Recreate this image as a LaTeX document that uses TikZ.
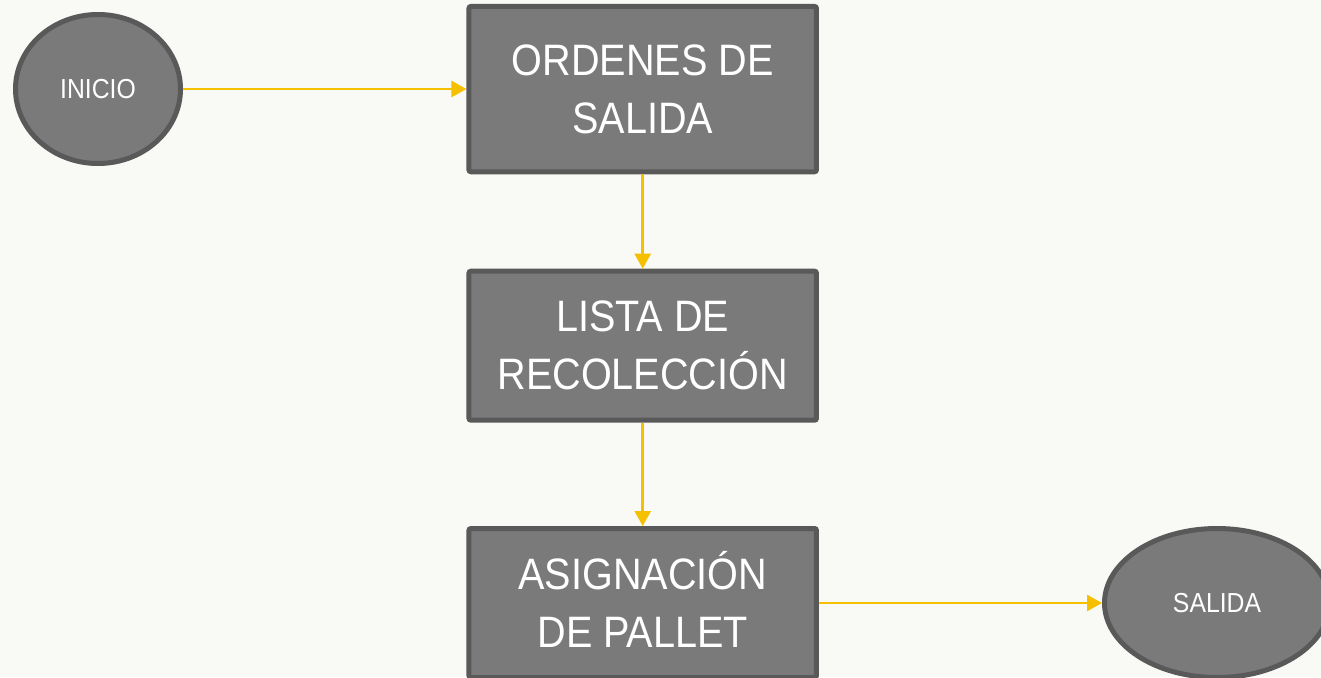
\documentclass[tikz,border=0pt]{standalone}
\usepackage{fontspec}
\setmainfont{Liberation Sans}[FakeStretch=0.9]
\usetikzlibrary{arrows.meta,shapes.geometric}
\definecolor{bgc}{HTML}{F9F9F5}
\definecolor{fillc}{HTML}{7A7A7A}
\definecolor{edgec}{HTML}{595959}
\definecolor{arrc}{HTML}{F5C000}
\tikzset{
  stepbox/.style={draw=edgec, fill=fillc, line width=5pt, rounded corners=2pt,
    minimum width=347.5pt, inner sep=0pt, align=center, text=white,
    font=\fontsize{44}{58}\selectfont},
  termnode/.style={ellipse, draw=edgec, fill=fillc, line width=5pt, inner sep=0pt,
    minimum height=149pt, text=white, font=\fontsize{27.5}{33}\selectfont},
  flow/.style={draw=arrc, line width=2.6pt, -{Triangle[width=16pt,length=15pt]}}
}
\begin{document}
\begin{tikzpicture}[x=1pt,y=-1pt]
\fill[bgc] (0,0) rectangle (1321,677);
\useasboundingbox (0,0) rectangle (1321,677);
\node[termnode, minimum width=165pt] (inicio) at (98,89) {INICIO};
\node[stepbox, minimum height=165.3pt] (ordenes) at (642.7,89.1) {ORDENES DE\\SALIDA};
\node[stepbox, minimum height=149pt] (lista) at (642.7,345.7) {LISTA DE\\RECOLECCIÓN};
\node[stepbox, minimum height=149pt] (asign) at (642.7,603) {ASIGNACI\smash{Ó}N\\DE PALLET};
\node[termnode, minimum width=225pt] (salida) at (1217,603) {SALIDA};
\draw[flow] (inicio.east) -- (ordenes.west |- inicio.east);
\draw[flow] (ordenes.south) -- (lista.north);
\draw[flow] (lista.south) -- (asign.north);
\draw[flow] (asign.east) -- (salida.west);
\end{tikzpicture}
\end{document}
